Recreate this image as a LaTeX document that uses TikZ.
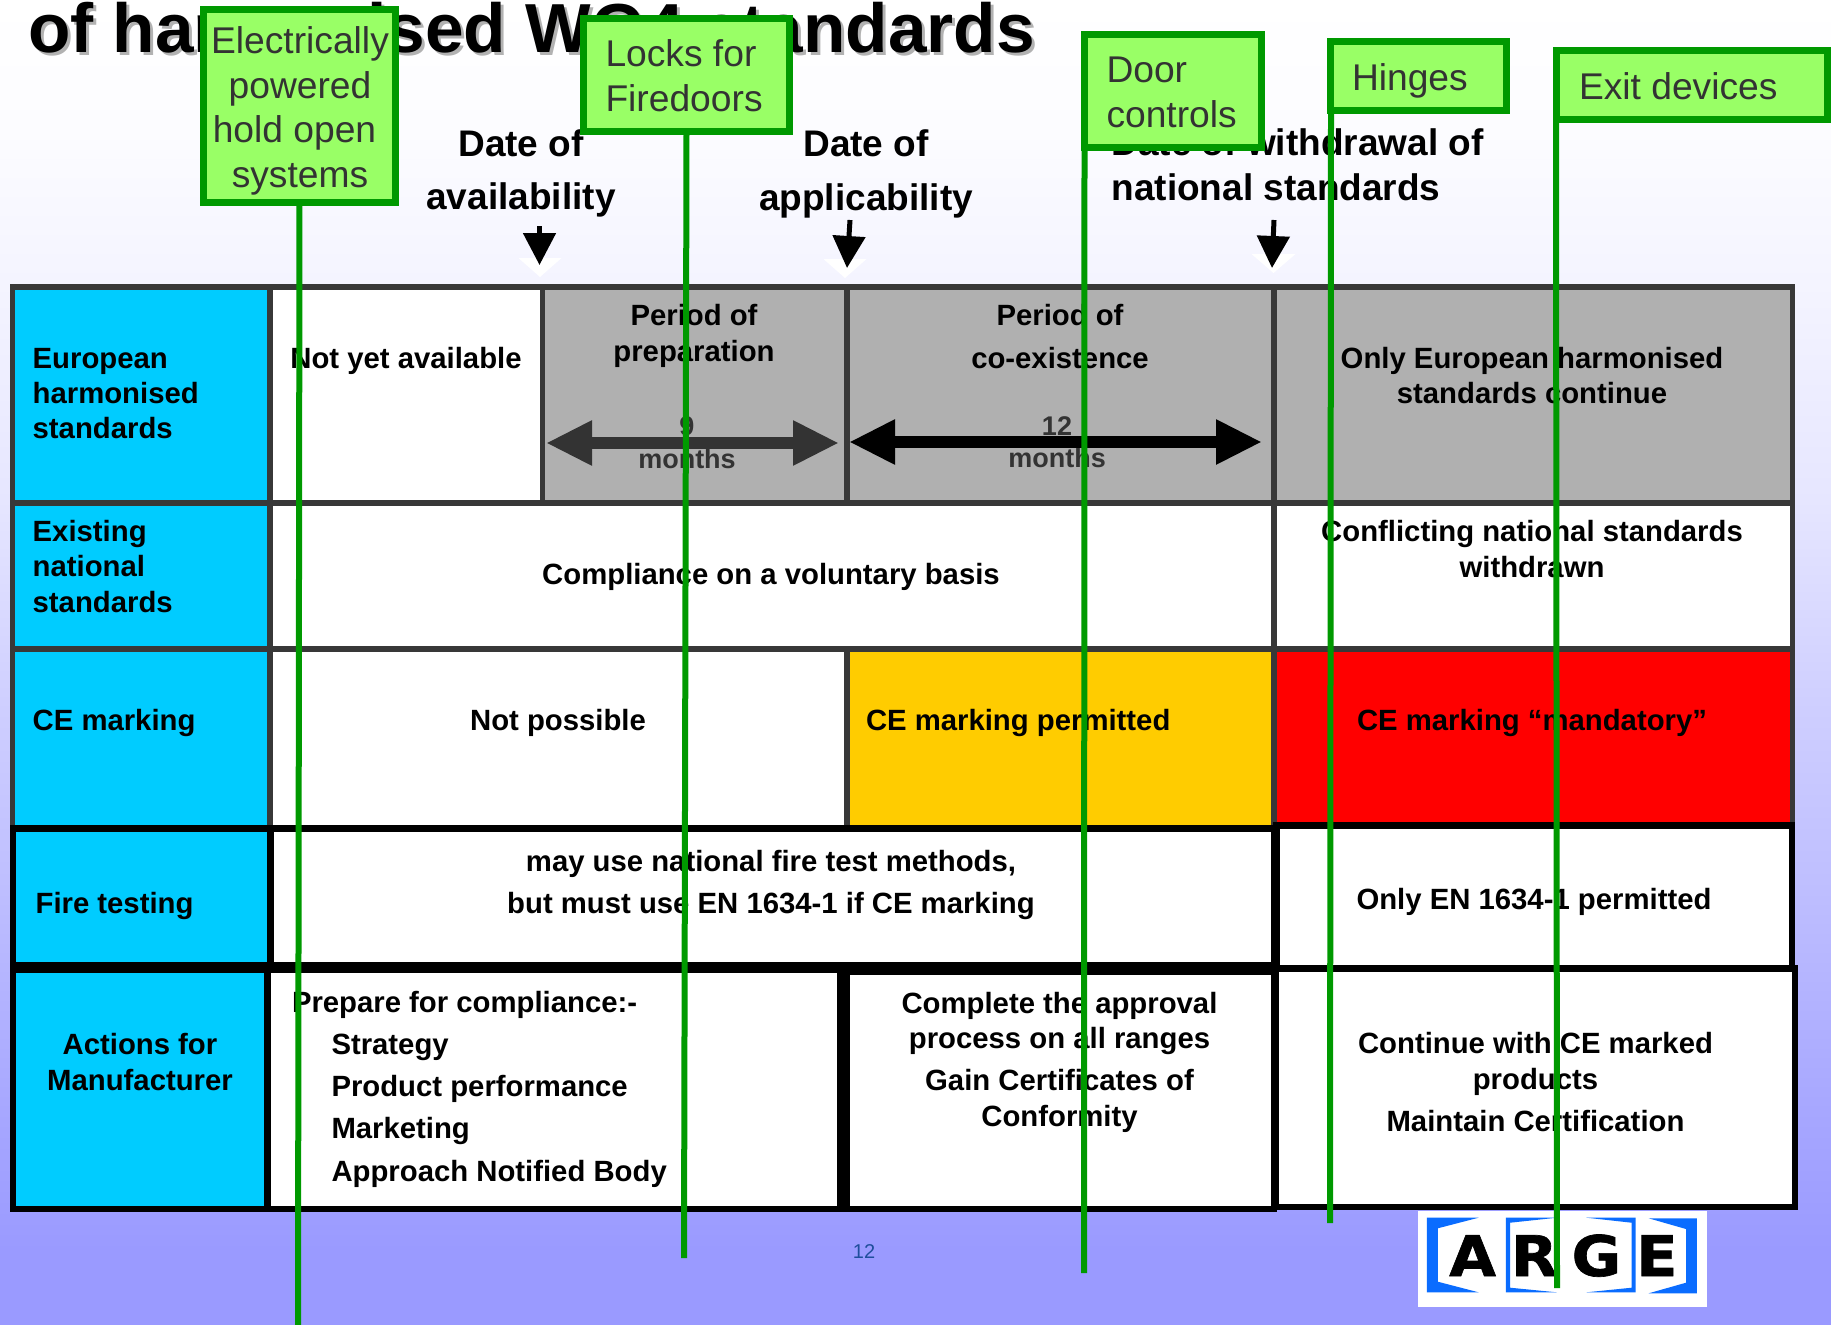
\documentclass[tikz,border=0pt]{standalone}
\usepackage{fontspec}
\setmainfont{Liberation Sans}
\newfontfamily\logofont[BoldFeatures={FakeBold=1.2,FakeStretch=1.08}]{DejaVu Sans}
\usetikzlibrary{arrows.meta}
\definecolor{cellcyan}{HTML}{00CCFF}
\definecolor{cellgrey}{HTML}{B0B0B0}
\definecolor{cellamber}{HTML}{FFCC00}
\definecolor{gridgrey}{HTML}{383838}
\definecolor{tagfill}{HTML}{99FF66}
\definecolor{taggreen}{HTML}{009900}
\definecolor{tagtext}{HTML}{333333}
\definecolor{logoblue}{HTML}{0A6CFF}
\definecolor{pagenum}{HTML}{1F4E9C}
\definecolor{bga}{HTML}{FCFCFF}\definecolor{bgb}{HTML}{F3F3FF}\definecolor{bgc}{HTML}{E6E6FF}
\definecolor{bgd}{HTML}{CFCFFF}\definecolor{bge}{HTML}{BDBDFF}\definecolor{bgf}{HTML}{A8A8FF}\definecolor{bgg}{HTML}{9A9AFF}
\tikzset{
  cell/.style={font=\fontsize{29.3}{35.8}\selectfont\bfseries, inner sep=0pt, outer sep=0pt, anchor=base, align=center, text=black},
  cellleft/.style={cell, anchor=base west, align=left},
  datelabel/.style={cell, font=\fontsize{37}{45}\selectfont\bfseries},
  monthlabel/.style={cell, font=\fontsize{27}{32}\selectfont\bfseries, text=tagtext},
  tag/.style={draw=taggreen, fill=tagfill, line width=7pt, rectangle, inner sep=0pt, outer sep=0pt},
  tagtitle/.style={font=\fontsize{37.2}{44.6}\selectfont, text=tagtext, inner sep=0pt, outer sep=0pt},
  tagline/.style={draw=taggreen, line width=6pt},
  grid/.style={draw=gridgrey, line width=5.5pt},
  heavy/.style={draw=black, line width=6.5pt},
  downarrow/.style={line width=5pt, -{Triangle[length=32pt,width=32pt]}},
  spanarrow/.style={line width=12pt, {Triangle[length=46pt,width=42pt]}-{Triangle[length=46pt,width=42pt]}},
}
\begin{document}
\begin{tikzpicture}[x=1pt,y=-1pt]
\useasboundingbox (0,0) rectangle (1831,1325);
% background
\shade[top color=white,bottom color=bga] (0,0) rectangle (1831,131);
\shade[top color=bga,bottom color=bgb] (0,130) rectangle (1831,301);
\shade[top color=bgb,bottom color=bgc] (0,300) rectangle (1831,501);
\shade[top color=bgc,bottom color=bgd] (0,500) rectangle (1831,701);
\shade[top color=bgd,bottom color=bge] (0,700) rectangle (1831,901);
\shade[top color=bge,bottom color=bgf] (0,900) rectangle (1831,1101);
\shade[top color=bgf,bottom color=bgg] (0,1100) rectangle (1831,1251);
\fill[bgg] (0,1250) rectangle (1831,1325);
% title
\node[anchor=base west,inner sep=0pt,text=black!30,font=\fontsize{69.4}{80}\selectfont\bfseries] (titleshadow) at (31,55) {of harmonised WG4 standards};
\node[anchor=base west,inner sep=0pt,font=\fontsize{69.4}{80}\selectfont\bfseries] (title) at (28,52) {of harmonised WG4 standards};
% cell fills
\fill[cellcyan] (12,287) rectangle (270,1209);
\fill[white] (270,287) rectangle (542,503);
\fill[cellgrey] (542,287) rectangle (1792,503);
\fill[white] (270,503) rectangle (1792,649);
\fill[white] (270,649) rectangle (847,828);
\fill[cellamber] (847,649) rectangle (1274,828);
\fill[red] (1274,649) rectangle (1792,825);
\fill[white] (270,828) rectangle (1795,1209);
% grey grid
\draw[grid] (10,287) -- (1795,287);
\draw[grid] (10,503) -- (1795,503);
\draw[grid] (10,649) -- (1795,649);
\draw[grid] (12.5,287) -- (12.5,828);
\draw[grid] (270,287) -- (270,828);
\draw[grid] (542.5,287) -- (542.5,503);
\draw[grid] (847,287) -- (847,503);
\draw[grid] (847,649) -- (847,828);
\draw[grid] (1274,287) -- (1274,825);
\draw[grid] (1792.5,287) -- (1792.5,825);
% heavy frames
\draw[heavy] (13,828.5) rectangle (1274,965);
\draw[heavy] (270.5,828.5) -- (270.5,965);
\draw[heavy] (1276.5,825.5) rectangle (1792,968.5);
\draw[heavy] (13,970) rectangle (267.5,1209);
\draw[heavy] (267.5,970) rectangle (840,1209);
\draw[heavy] (846.5,971.5) rectangle (1274,1209);
\draw[heavy] (1276,968) rectangle (1795,1207);
% white wedges
\fill[white] (518.5,258) -- (561.5,258) -- (540,277) -- cycle;
\fill[white] (823.5,259) -- (866.5,259) -- (845,278) -- cycle;
\fill[white] (1251.5,254) -- (1295.5,254) -- (1273.5,273) -- cycle;
% date labels and arrows
\node[datelabel] (avail) at (521,209) {Date of\\[8pt]availability};
\node[datelabel] (applic) at (866,210) {Date of\\[9pt]applicability};
\node[datelabel,anchor=base west,align=left] (withdraw) at (1111.5,200) {Date of withdrawal of\\national standards};
\coordinate (a1s) at (539.5,226); \coordinate (a1e) at (539.5,265);
\coordinate (a2s) at (850,220); \coordinate (a2e) at (847,268);
\coordinate (a3s) at (1274,220); \coordinate (a3e) at (1272,268);
\draw[downarrow] (a1s) -- (a1e);
\draw[downarrow] (a2s) -- (a2e);
\draw[downarrow] (a3s) -- (a3e);
% row heads
\node[cellleft] (h1) at (32.7,438.5) {European\\[-0.6pt]harmonised\\[-0.6pt]standards};
\node[cellleft] (h2) at (32.7,612.7) {Existing\\national\\standards};
\node[cellleft] (h3) at (32.7,730) {CE marking};
\node[cellleft] (h4) at (35.6,913.7) {Fire testing};
\node[cell] (h5) at (140,1090) {Actions for\\Manufacturer};
% row 1
\node[cell] (r1a) at (406,368) {Not yet available};
\node[cell] (r1b) at (694,361) {Period of\\preparation};
\node[cell] (r1c) at (1060,368) {Period of\\[6.5pt]co-existence};
\node[cell] (r1d) at (1532,403) {Only European harmonised\\[-1.6pt]standards continue};
\coordinate (s1l) at (546,443); \coordinate (s1r) at (839,443);
\coordinate (s2l) at (849,442); \coordinate (s2r) at (1262,442);
\node[monthlabel] (m9) at (687,468) {9\\[.6pt]months};
\node[monthlabel] (m12) at (1057,467) {12\\months};
\draw[spanarrow,draw=tagtext,fill=tagtext] (s1l) -- (s1r);
\draw[spanarrow,draw=black,fill=black] (s2l) -- (s2r);
% row 2
\node[cell] (r2a) at (771,584) {Compliance on a voluntary basis};
\node[cell] (r2b) at (1532,577) {Conflicting national standards\\withdrawn};
% row 3
\node[cell] (r3a) at (558,730) {Not possible};
\node[cellleft] (r3b) at (866,730) {CE marking permitted};
\node[cellleft] (r3c) at (1357,730) {CE marking “mandatory”};
% row 4
\node[cell] (r4a) at (771,913) {may use national fire test methods,\\[5.4pt]but must use EN 1634-1 if CE marking};
\node[cell] (r4b) at (1534,909) {Only EN 1634-1 permitted};
% row 5
\node[cellleft] (r5a) at (292,1012) {Prepare for compliance:-};
\node[cellleft] (r5b) at (331.5,1181) {Strategy\\[6.3pt]Product performance\\[6.3pt]Marketing\\[6.3pt]Approach Notified Body};
\node[cell] (r5c) at (1059.5,1126.5) {Complete the approval\\process on all ranges\\[6pt]Gain Certificates of\\Conformity};
\node[cell] (r5d) at (1535.5,1131) {Continue with CE marked\\products\\[6pt]Maintain Certification};
% page number
\node[anchor=base,inner sep=0pt,text=pagenum,font=\fontsize{20}{24}\selectfont] (pg) at (864,1258) {12};
% logo
\fill[white] (1418,1211) rectangle (1707,1307);
\fill[logoblue] (1426.9,1217.7) -- (1478.6,1217.7) -- (1437.8,1228.3) -- (1437.8,1281.7) -- (1478.6,1292.3) -- (1426.9,1292.3) -- cycle;
\fill[logoblue] (1505.8,1217.7) -- (1556.8,1217.7) -- (1510.2,1222.7) -- (1510.2,1287.7) -- (1556.8,1292.3) -- (1505.8,1292.3) -- cycle;
\fill[logoblue] (1586.4,1217.7) -- (1635.7,1217.7) -- (1635.7,1292.3) -- (1586.4,1292.3) -- (1631.6,1287.7) -- (1631.6,1222.7) -- cycle;
\fill[logoblue] (1648.6,1218.3) -- (1696.9,1218.3) -- (1696.9,1293.3) -- (1648.6,1293.3) -- (1686,1282.7) -- (1686,1229) -- cycle;
\node[anchor=base west,inner sep=0pt,font=\fontsize{56}{60}\logofont\bfseries] (logo) at (1449,1276) {A\kern15pt R\kern14pt G\kern15pt E};
% product tags
\node[tag,minimum width=192pt,minimum height=193pt,anchor=north west] (t1) at (203.5,9.5) {};
\node[tag,minimum width=206pt,minimum height=113pt,anchor=north west] (t2) at (583.5,18.5) {};
\node[tag,minimum width=177pt,minimum height=113pt,anchor=north west] (t3) at (1084.5,34.5) {};
\node[tag,minimum width=176pt,minimum height=69pt,anchor=north west] (t4) at (1330.5,41.5) {};
\node[tag,minimum width=271pt,minimum height=69pt,anchor=north west] (t5) at (1556,50.5) {};
\node[tagtitle,anchor=base,align=center] (t1t) at (300,187.5) {Electrically\\powered\\hold open\rule{11pt}{0pt}\\systems};
\node[tagtitle,anchor=base west,align=left] (t2t) at (605.5,111) {Locks for\\Firedoors};
\node[tagtitle,anchor=base west,align=left] (t3t) at (1106.5,127) {Door\\controls};
\node[tagtitle,anchor=base west] (t4t) at (1352,90) {Hinges};
\node[tagtitle,anchor=base west] (t5t) at (1579,99) {Exit devices};
\coordinate (e1) at (298,1325);
\coordinate (e2) at (684,1258);
\coordinate (e3) at (1084,1273);
\coordinate (e4) at (1330,1223);
\coordinate (e5) at (1557,1288);
\draw[tagline] (t1.south) -- (e1);
\draw[tagline] (t2.south) -- (e2);
\draw[tagline] (t3.south west) -- (e3);
\draw[tagline] ([xshift=.5pt]t4.south west) -- (e4);
\draw[tagline] (t5.south west) -- (e5);
\end{tikzpicture}
\end{document}
